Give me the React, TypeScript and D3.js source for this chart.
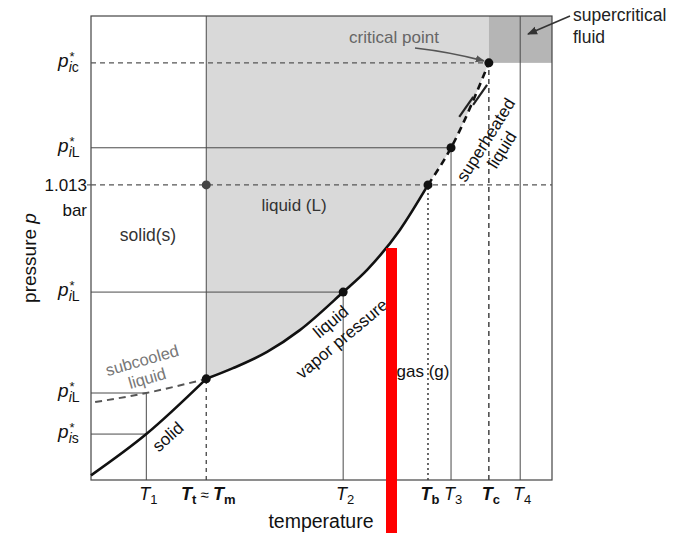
import React from "react";
import * as d3 from "d3";

// phase diagram of a pure substance (p-T), values in relative units 0..100

const tempNames = ["T1", "Tt", "T2", "Tb", "T3", "Tc", "T4"];
const tempValues = [12, 25, 54.7, 73.1, 78.1, 86.3, 93.1];

const pressureNames = ["pic", "piLhigh", "atm", "piLmid", "piLlow", "pis"];
const pressureValues = [89.9, 71.6, 63.6, 40.5, 18.75, 9.9];

const sublimationT = [0, 12, 25];
const sublimationP = [1, 9.9, 21.8];

const vaporT = [25, 30.8, 38.2, 45.3, 54.7, 59.9, 67, 73.1];
const vaporP = [21.8, 24.1, 27.6, 32.3, 40.5, 45.3, 53.9, 63.6];

const superheatedT = [73.1, 78.1, 86.3];
const superheatedP = [63.6, 71.6, 89.9];

const subcooledT = [0.9, 12, 25];
const subcooledP = [16.8, 18.75, 21.8];

const slashT = [81.4, 84.4];
const slashP = [80.4, 83.0];

const W = 675;
const H = 533;
const FONT = "'Liberation Sans', Arial, Helvetica, sans-serif";

const zip = (a: number[], b: number[]) => a.map((v, i) => [v, b[i]] as [number, number]);

export default function App() {
  const x = d3.scaleLinear().domain([0, 100]).range([91, 552]);
  const y = d3.scaleLinear().domain([0, 100]).range([480, 16]);

  const T = (name: string) => tempValues[tempNames.indexOf(name)];
  const P = (name: string) => pressureValues[pressureNames.indexOf(name)];

  const line = d3
    .line<[number, number]>()
    .x((d) => x(d[0]))
    .y((d) => y(d[1]))
    .curve(d3.curveMonotoneX);

  const sublimation = zip(sublimationT, sublimationP);
  const vapor = zip(vaporT, vaporP);
  const superheated = zip(superheatedT, superheatedP);
  const subcooled = zip(subcooledT, subcooledP);

  const boundary = vapor.concat(superheated.slice(1));
  const liquidArea =
    line(boundary) +
    `L${x(T("Tc"))},${y(100)}L${x(T("Tt"))},${y(100)}Z`;

  const hline = (p: number, t0: number, t1: number) => ({ x1: x(t0), x2: x(t1), y1: y(p), y2: y(p) });
  const vline = (t: number, p0: number, p1: number) => ({ x1: x(t), x2: x(t), y1: y(p0), y2: y(p1) });

  const thin = { stroke: "#4a4a4a", strokeWidth: 1 };
  const dashed = { stroke: "#555", strokeWidth: 1.3, strokeDasharray: "5,4" };

  const tripleP = sublimationP[sublimationP.length - 1];

  const points: [number, number, string][] = [
    [T("Tt"), tripleP, "#111"],
    [T("Tt"), P("atm"), "#444"],
    [T("T2"), P("piLmid"), "#111"],
    [T("Tb"), P("atm"), "#111"],
    [T("T3"), P("piLhigh"), "#111"],
    [T("Tc"), P("pic"), "#111"],
  ];

  const pSubs: Record<string, [string, string]> = {
    pic: ["i", "c"],
    piLhigh: ["i", "L"],
    piLmid: ["i", "L"],
    piLlow: ["i", "L"],
    pis: ["i", "s"],
  };

  const tLabels: Record<string, { sub: string; bold: boolean }> = {
    T1: { sub: "1", bold: false },
    T2: { sub: "2", bold: false },
    Tb: { sub: "b", bold: true },
    T3: { sub: "3", bold: false },
    Tc: { sub: "c", bold: true },
    T4: { sub: "4", bold: false },
  };

  return (
    <svg
      width={W}
      height={H}
      style={{ position: "absolute", left: 0, top: 0, background: "#fff" }}
      fontFamily={FONT}
    >
      <defs>
        <marker id="arrowGray" viewBox="0 0 10 10" refX="9" refY="5" markerWidth="9" markerHeight="9" orient="auto" markerUnits="userSpaceOnUse">
          <path d="M0,1 L10,5 L0,9 Z" fill="#555" />
        </marker>
        <marker id="arrowDark" viewBox="0 0 10 10" refX="9" refY="5" markerWidth="10" markerHeight="10" orient="auto" markerUnits="userSpaceOnUse">
          <path d="M0,1 L10,5 L0,9 Z" fill="#333" />
        </marker>
      </defs>

      {/* shaded regions */}
      <path d={liquidArea} fill="#d9d9d9" />
      <rect
        x={x(T("Tc"))}
        y={y(100)}
        width={x(100) - x(T("Tc"))}
        height={y(P("pic")) - y(100)}
        fill="#b5b5b5"
      />

      {/* frame */}
      <rect x={x(0)} y={y(100)} width={x(100) - x(0)} height={y(0) - y(100)} fill="none" stroke="#444" strokeWidth={1.2} />

      {/* horizontal guides */}
      <line {...hline(P("pic"), 0, T("Tc"))} {...dashed} />
      <line {...hline(P("piLhigh"), 0, T("T3"))} {...thin} />
      <line {...hline(P("atm"), 0, 100)} {...dashed} />
      <line {...hline(P("piLmid"), 0, T("T2"))} {...thin} />
      <line {...hline(P("piLlow"), 0, T("T1"))} {...thin} />
      <line {...hline(P("pis"), 0, T("T1"))} {...thin} />
      <line x1={x(0) - 4} x2={x(0)} y1={y(P("atm"))} y2={y(P("atm"))} stroke="#444" strokeWidth={1} />

      {/* vertical guides */}
      <line {...vline(T("T1"), 0, P("piLlow"))} {...thin} />
      <line {...vline(T("Tt"), 0, tripleP)} stroke="#444" strokeWidth={1.3} strokeDasharray="4,4" />
      <line {...vline(T("Tt"), tripleP, 100)} {...thin} />
      <line {...vline(T("T2"), 0, P("piLmid"))} {...thin} />
      <line {...vline(T("Tb"), 0, P("atm"))} stroke="#444" strokeWidth={1.6} strokeDasharray="2,3" />
      <line {...vline(T("T3"), 0, P("piLhigh"))} {...thin} />
      <line {...vline(T("Tc"), 0, P("pic"))} stroke="#444" strokeWidth={1.5} strokeDasharray="5,4" />
      <line {...vline(T("T4"), 0, 100)} {...thin} />

      {/* phase boundaries */}
      <path d={line(subcooled) ?? ""} fill="none" stroke="#555" strokeWidth={2} strokeDasharray="7,5" />
      <path d={line(sublimation) ?? ""} fill="none" stroke="#111" strokeWidth={2.6} />
      <path d={line(vapor) ?? ""} fill="none" stroke="#111" strokeWidth={2.6} />
      <path d={line(superheated) ?? ""} fill="none" stroke="#111" strokeWidth={2.6} strokeDasharray="7,5" />

      {/* slash marks on the metastable branch */}
      {slashT.map((t, i) => (
        <line
          key={"s" + i}
          x1={x(t) - 7}
          y1={y(slashP[i]) + 10}
          x2={x(t) + 7}
          y2={y(slashP[i]) - 10}
          stroke="#222"
          strokeWidth={2.2}
        />
      ))}

      {points.map(([t, p, c], i) => (
        <circle key={"pt" + i} cx={x(t)} cy={y(p)} r={4.5} fill={c} />
      ))}

      {/* y-axis labels */}
      {pressureNames.map((name, i) => {
        const yy = y(pressureValues[i]);
        if (name === "atm") {
          return (
            <g key={name} fontSize={17} fill="#111" textAnchor="end">
              <text x={87} y={yy + 6}>1.013</text>
              <text x={87} y={yy + 31}>bar</text>
            </g>
          );
        }
        const [a, b] = pSubs[name];
        return (
          <text key={name} x={58} y={yy + 4} fill="#111" fontSize={19}>
            <tspan fontStyle="italic">p</tspan>
            <tspan fontSize={13} dy={-6} dx={1}>*</tspan>
            <tspan fontSize={14} dy={11} dx={-6} fontStyle="italic">{a}</tspan>
            <tspan fontSize={14}>{b}</tspan>
          </text>
        );
      })}

      <text
        transform={`translate(36,${(y(0) + y(100)) / 2 + 10}) rotate(-90)`}
        textAnchor="middle"
        fontSize={19}
        fill="#111"
      >
        pressure <tspan fontStyle="italic">p</tspan>
      </text>

      {/* x-axis labels */}
      {tempNames.map((name, i) => {
        const xx = x(tempValues[i]);
        if (name === "Tt") {
          return (
            <text key={name} x={xx + 2} y={500} textAnchor="middle" fontSize={18} fill="#111" fontWeight="bold">
              <tspan fontStyle="italic">T</tspan>
              <tspan fontSize={13} dy={4}>t</tspan>
              <tspan fontSize={15} dy={-4} fontWeight="normal"> ≈ </tspan>
              <tspan fontStyle="italic">T</tspan>
              <tspan fontSize={13} dy={4}>m</tspan>
            </text>
          );
        }
        const lab = tLabels[name];
        return (
          <text
            key={name}
            x={xx + 2}
            y={500}
            textAnchor="middle"
            fontSize={18}
            fill="#111"
            fontWeight={lab.bold ? "bold" : "normal"}
          >
            <tspan fontStyle="italic">T</tspan>
            <tspan fontSize={13} dy={4}>{lab.sub}</tspan>
          </text>
        );
      })}

      <text x={321} y={528} textAnchor="middle" fontSize={19.5} fill="#111">temperature</text>

      {/* region labels */}
      <text x={294} y={205} textAnchor="middle" dominantBaseline="central" fontSize={17} fill="#333">liquid (L)</text>
      <text x={148} y={235} textAnchor="middle" dominantBaseline="central" fontSize={17.5} fill="#333">solid(s)</text>
      <text x={423} y={371} textAnchor="middle" dominantBaseline="central" fontSize={17} fill="#111">gas (g)</text>

      <text x={394} y={37} textAnchor="middle" dominantBaseline="central" fontSize={17} fill="#666">critical point</text>
      <path
        d={`M415,48 Q450,52 ${x(T("Tc")) - 5},${y(P("pic")) - 2}`}
        fill="none"
        stroke="#555"
        strokeWidth={1.6}
        markerEnd="url(#arrowGray)"
      />

      <text x={573} y={15} dominantBaseline="central" fontSize={17.5} fill="#222">supercritical</text>
      <text x={573} y={37} dominantBaseline="central" fontSize={17.5} fill="#222">fluid</text>
      <line x1={570} y1={16} x2={528} y2={34} stroke="#333" strokeWidth={1.6} markerEnd="url(#arrowDark)" />

      <g fontSize={17} fill="#111" textAnchor="middle" dominantBaseline="central">
        <text transform="translate(486,140) rotate(-58)">superheated</text>
        <text transform="translate(502,150) rotate(-58)">liquid</text>
        <text transform="translate(331,322) rotate(-40)">liquid</text>
        <text transform="translate(342,339) rotate(-40)">vapor pressure</text>
        <text transform="translate(168,437) rotate(-42)">solid</text>
      </g>
      <g fontSize={16.5} fill="#777" textAnchor="middle" dominantBaseline="central">
        <text transform="translate(142,360) rotate(-16)">subcooled</text>
        <text transform="translate(147,378) rotate(-16)">liquid</text>
      </g>

      {/* red marker bar */}
      <rect x={386} y={248} width={11} height={H - 248} fill="#ff0000" />
    </svg>
  );
}
